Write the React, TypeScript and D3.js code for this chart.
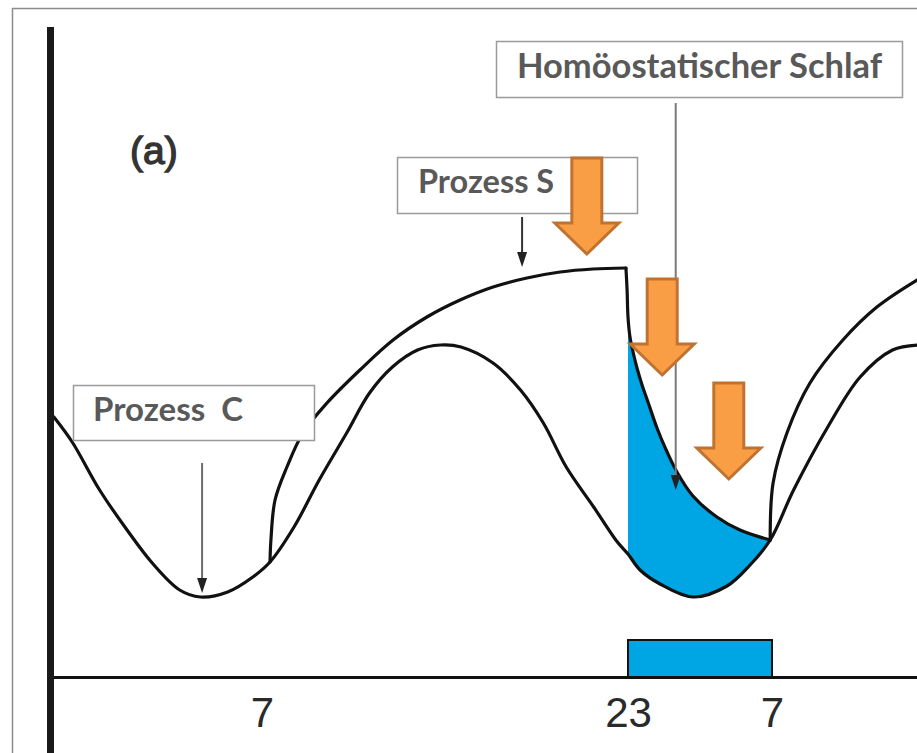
import React, { useRef, useEffect } from "react";
import * as d3 from "d3";

// clock hours (continuing past midnight) and relative level (0 = axis)
const hourTicks = [7, 23, 31];
const tickLabels = ["7", "23", "7"];
const sleepPeriod = [23, 31];

// Prozess C (circadian)
const processC: [number, number][] = [
  [-2.1, 52], [-1.3, 47], [-0.1, 37.4], [1.1, 29.4], [2.2, 22.8], [3.4, 17.4],
  [4.3, 16], [5.5, 17], [6.6, 20], [7.35, 23], [8.4, 30], [9.5, 39.4],
  [10.7, 48.8], [11.7, 56.8], [12.7, 62], [13.8, 65.4], [14.8, 66.4], [15.7, 66],
  [17.1, 62.8], [18.3, 57.4], [19.3, 50.8], [20.3, 42], [21.5, 34], [22.5, 27.2],
  [23, 24.6], [23.67, 21.4], [24.78, 18.6], [26.6, 16], [28.5, 18.2], [29.78, 22.4],
  [30.9, 27.4], [32.2, 37.4], [34.1, 50], [35.9, 60], [37.7, 65.4], [39.1, 66.4],
];

// Prozess S (homeostatic): wake, sleep, wake
const sWake1: [number, number][] = [
  [7.35, 23], [7.39, 27.4], [7.57, 35.4], [8.09, 42], [8.79, 48.8], [9.84, 54.8],
  [11.28, 61.4], [12.73, 67.4], [14.21, 72], [15.66, 75.4], [17.1, 78],
  [18.58, 79.8], [20.03, 81], [21.47, 81.6], [22.91, 81.8],
];
const sSleep: [number, number][] = [
  [22.91, 81.8], [22.96, 77.4], [23.0, 72], [23.11, 68], [23.28, 65], [23.5, 61.8],
  [23.78, 58.4], [24.11, 55], [24.61, 49.8], [25.17, 45], [25.72, 41], [26.61, 36.2],
  [27.94, 32], [29.22, 29.4], [30.9, 27.4],
];
const sWake2: [number, number][] = [
  [30.9, 27.4], [31.06, 38.8], [31.83, 48.8], [33.11, 58.8], [34.94, 67.4],
  [36.83, 74], [39.06, 79.4],
];

// orange arrows: tip positions
const pressureArrows: [number, number][] = [[21.2, 84], [24.9, 59.8], [28.6, 39]];

const App = () => {
  const ref = useRef<SVGSVGElement>(null);

  useEffect(() => {
    const width = 917;
    const height = 753;
    const svg = d3.select(ref.current);
    svg.selectAll("*").remove();
    svg.attr("width", width).attr("height", height);

    const x = d3.scaleLinear()
      .domain([-2.27, 7, 23, 31, 39.06])
      .range([50, 262, 628, 772, 917]);
    const y = d3.scaleLinear().domain([0, 100]).range([677, 177]);

    const line = d3.line<[number, number]>()
      .x(d => x(d[0]))
      .y(d => y(d[1]))
      .curve(d3.curveCatmullRom.alpha(0.5));

    svg.append("rect").attr("width", width).attr("height", height).attr("fill", "#fff");
    svg.append("rect")
      .attr("x", 12.5).attr("y", 8.5)
      .attr("width", 1000).attr("height", 1000)
      .attr("fill", "none").attr("stroke", "#8c8c8c").attr("stroke-width", 1.5);

    // blue area between S and C during sleep
    const blueTop = sSleep.filter(d => d[0] >= 23);
    const cSeg = processC.filter(d => d[0] >= 23 && d[0] <= 30.9).slice().reverse();
    const areaPath = line(blueTop) + (line(cSeg) as string).replace(/^M/, "L") + "Z";
    svg.append("path").attr("d", areaPath).attr("fill", "#00a6e3");

    // sleep bar
    svg.append("rect")
      .attr("x", x(sleepPeriod[0]))
      .attr("y", y(0) - 37)
      .attr("width", x(sleepPeriod[1]) - x(sleepPeriod[0]))
      .attr("height", 37)
      .attr("fill", "#00a6e3")
      .attr("stroke", "#111")
      .attr("stroke-width", 2);

    // curves
    [processC, sWake1, sSleep, sWake2].forEach(series => {
      svg.append("path")
        .datum(series)
        .attr("fill", "none")
        .attr("stroke", "#111")
        .attr("stroke-width", 3.2)
        .attr("stroke-linecap", "round")
        .attr("stroke-linejoin", "round")
        .attr("d", line);
    });

    // x axis
    const xAxis = svg.append("g")
      .attr("transform", `translate(0,${y(0)})`)
      .call(
        d3.axisBottom(x)
          .tickValues(hourTicks)
          .tickFormat((d, i) => tickLabels[i])
          .tickSize(0)
          .tickPadding(20)
      );
    xAxis.select(".domain").attr("stroke", "#111").attr("stroke-width", 3);
    xAxis.selectAll("text")
      .attr("font-family", "Liberation Sans, Arial, sans-serif")
      .attr("font-size", 42)
      .attr("fill", "#2a2a2a");

    // y axis
    svg.append("line")
      .attr("x1", 50.5).attr("x2", 50.5)
      .attr("y1", y(130)).attr("y2", height)
      .attr("stroke", "#1a1a1a").attr("stroke-width", 7);

    // panel letter
    svg.append("text")
      .attr("x", 130).attr("y", 164)
      .attr("font-family", "Liberation Sans, Arial, sans-serif")
      .attr("font-size", 39)
      .attr("fill", "#333").attr("stroke", "#333").attr("stroke-width", 1.3)
      .text("(a)");

    // thin pointer arrows
    const pointer = (px: number, y1: number, y2: number, color: string) => {
      svg.append("line")
        .attr("x1", px).attr("x2", px).attr("y1", y1).attr("y2", y2 - 8)
        .attr("stroke", color).attr("stroke-width", 2);
      svg.append("path")
        .attr("d", `M${px - 5},${y2 - 15}L${px + 5},${y2 - 15}L${px},${y2}Z`)
        .attr("fill", "#222");
    };
    pointer(x(4.38), 463, y(16.8), "#6a6a6a");
    pointer(x(18.37), 217, y(82), "#333");
    pointer(x(25.65), 103, y(37.4), "#7a7a7a");

    // label boxes
    const box = (bx: number, by: number, bw: number, bh: number, tx: number, ty: number, size: number, label: string) => {
      svg.append("rect")
        .attr("x", bx).attr("y", by).attr("width", bw).attr("height", bh)
        .attr("fill", "#fff").attr("stroke", "#9a9a9a").attr("stroke-width", 1.5);
      svg.append("text")
        .attr("x", tx).attr("y", ty)
        .attr("font-family", "Lato, sans-serif")
        .attr("font-weight", "bold")
        .attr("font-size", size)
        .attr("fill", "#595959")
        .style("white-space", "pre")
        .text(label);
    };
    box(397.5, 157.5, 240, 56, 418, 193, 32.5, "Prozess S");
    box(496.5, 41.5, 406, 56, 517, 78, 34.5, "Homöostatischer Schlaf");
    box(73.5, 385.5, 241, 55, 93, 421, 33, "Prozess  C");

    // orange arrows
    pressureArrows.forEach(([h, l]) => {
      const cx = x(h);
      const tip = y(l) - 3;
      const base = tip - 31;
      const topY = tip - 96;
      svg.append("path")
        .attr("d", `M${cx - 15},${topY}L${cx + 15},${topY}L${cx + 15},${base}L${cx + 32},${base}L${cx},${tip}L${cx - 32},${base}L${cx - 15},${base}Z`)
        .attr("fill", "#fa9e46")
        .attr("stroke", "#c07331")
        .attr("stroke-width", 3);
    });
  }, []);

  return <svg ref={ref} style={{ position: "absolute", left: 0, top: 0 }}></svg>;
};

export default App;
